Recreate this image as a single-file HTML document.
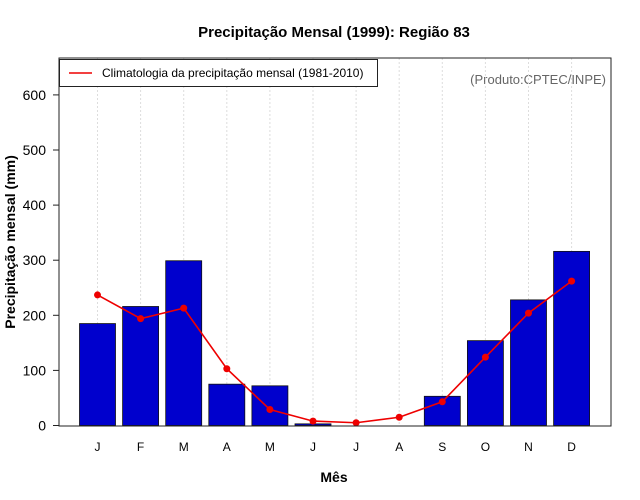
<!DOCTYPE html>
<html><head><meta charset="utf-8"><style>
body{margin:0;background:#fff;}
svg{display:block;font-family:"Liberation Sans",sans-serif;}
</style></head><body>
<svg id="c" width="640" height="500" xmlns="http://www.w3.org/2000/svg">
<text x="334" y="37" text-anchor="middle" font-size="15" font-weight="bold">Precipitação Mensal (1999): Região 83</text>
<text x="334" y="482" text-anchor="middle" font-size="14" font-weight="bold">Mês</text>
<text transform="translate(15,242) rotate(-90)" text-anchor="middle" font-size="14" font-weight="bold">Precipitação mensal (mm)</text>
<text x="606" y="84" text-anchor="end" font-size="13" fill="#666">(Produto:CPTEC/INPE)</text>
<g id="grid"></g><g id="bars"></g><g id="line"></g><g id="axes"></g>
<rect x="59" y="58" width="552" height="368" fill="none" stroke="#222" stroke-width="1"/>
<g>
<rect x="59.5" y="59.5" width="318" height="27" fill="#fff" stroke="#222"/>
<line x1="69" y1="73" x2="92" y2="73" stroke="#e00" stroke-width="1.5"/>
<text x="102" y="77" font-size="12">Climatologia da precipitação mensal (1981-2010)</text>
</g>
</svg>
<script>
const months=["J","F","M","A","M","J","J","A","S","O","N","D"];
const precip=[185,216,299,75,72,3,0,0,53,154,228,316];
const climat=[237,194,213,103,29,8,5,15,43,124,204,262];
const yTicks=[0,100,200,300,400,500,600];
const NS="http://www.w3.org/2000/svg";
const X=i=>97.5+i*43.1;
const Y=v=>425.5-v*0.551;
function mk(t,a,p){const e=document.createElementNS(NS,t);for(const k in a)e.setAttribute(k,a[k]);p.appendChild(e);return e;}
const grid=document.getElementById('grid'),bars=document.getElementById('bars'),line=document.getElementById('line'),axes=document.getElementById('axes');
months.forEach((m,i)=>{
 const g=mk('line',{x1:X(i),x2:X(i),y1:58,y2:426,stroke:'#ddd','stroke-dasharray':'2,2'},grid);
 
 
 const b=mk('rect',{x:X(i)-18,y:Y(precip[i]),width:36,height:Math.max(0,Y(0)-Y(precip[i])),fill:'#0000cd',stroke:'#111','stroke-width':0.8},bars);
 
 
 const t=mk('text',{x:X(i),y:451,'text-anchor':'middle','font-size':12},axes);
 t.textContent=m;
 
 
});
const pl=mk('polyline',{points:climat.map((v,i)=>X(i)+','+Y(v)).join(' '),fill:'none',stroke:'#e00','stroke-width':1.6},line);


climat.forEach((v,i)=>{
 const c=mk('circle',{cx:X(i),cy:Y(v),r:3.5,fill:'#e00'},line);
 
 
});
yTicks.forEach(v=>{
 const l=mk('line',{x1:53,x2:59,y1:Y(v),y2:Y(v),stroke:'#222'},axes);
 
 
 const t=mk('text',{x:46,y:Y(v)+5,'text-anchor':'end','font-size':14},axes);
 t.textContent=v;
 
 
});
</script>
</body></html>
